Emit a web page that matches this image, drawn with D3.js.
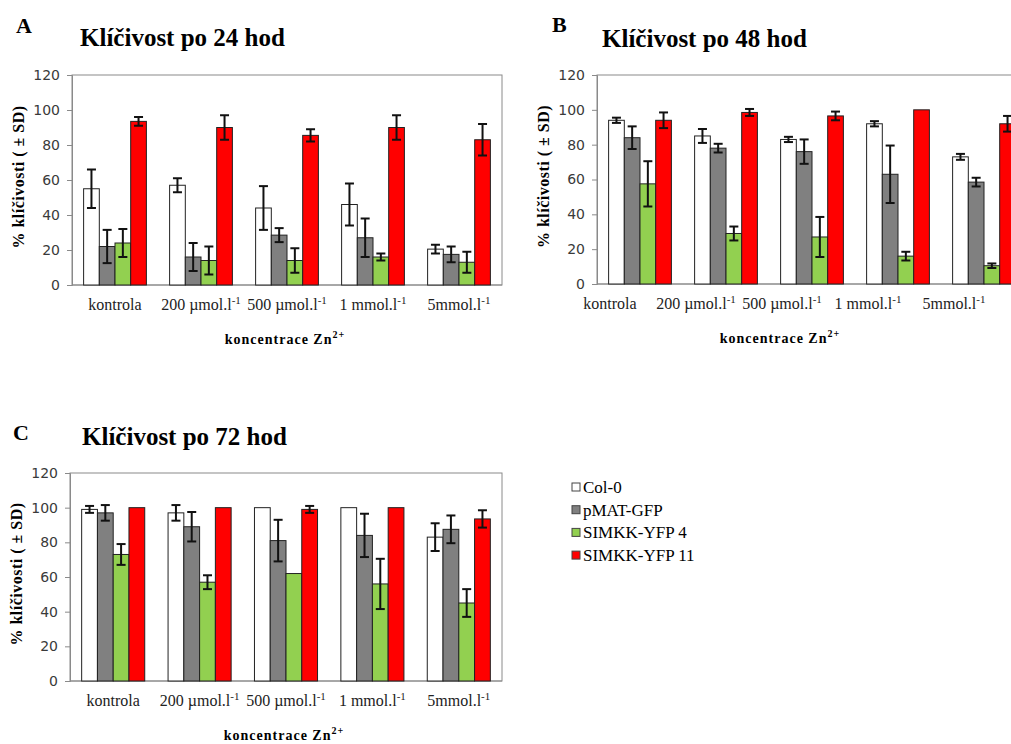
<!DOCTYPE html>
<html>
<head>
<meta charset="utf-8">
<script src="https://cdn.jsdelivr.net/npm/d3@7"></script>
<style>
  body { margin: 0; background: #fff; }
  svg { display: block; }
</style>
</head>
<body>
<div class="chart"></div>
<script>
// germination data (% klíčivosti)
var categories = ["kontrola", "200 µmol.l-1", "500 µmol.l-1", "1 mmol.l-1", "5mmol.l-1"];
var seriesNames = ["Col-0", "pMAT-GFP", "SIMKK-YFP 4", "SIMKK-YFP 11"];
var yTicks = [0, 20, 40, 60, 80, 100, 120];

// 24 h : one row per series, one value per category
var mean24 = [
    [55, 57, 44, 46, 20.5],
    [22, 16, 28.5, 27, 17.5],
    [24, 14, 14, 16, 13],
    [93.5, 90, 85.5, 90, 83]
];
var sd24 = [
    [11, 4, 12.5, 12, 2.5],
    [9.5, 8, 4, 11, 4.5],
    [8, 8, 7, 2, 6],
    [2.5, 7, 3.5, 7, 9]
];

// 48 h
var mean48 = [
    [94, 85, 83, 92, 73],
    [84, 78, 76, 63, 58.5],
    [57.5, 29, 27, 16, 10.5],
    [94, 98.5, 96.5, 100, 92]
];
var sd48 = [
    [1.5, 4, 1.5, 1.5, 1.7],
    [6.5, 2.5, 7, 16.5, 2.5],
    [13, 4, 11.5, 2.5, 1.3],
    [4.5, 2, 2.5, 0, 4.5]
];

// 72 h
var mean72 = [
    [99, 97, 100, 100, 83],
    [97, 89, 81, 84, 87.5],
    [73, 57, 62, 56, 45],
    [100, 100, 99, 100, 93.5]
];
var sd72 = [
    [2, 4.5, 0, 0, 8],
    [4.5, 8.5, 12, 12.5, 8],
    [6, 4, 0, 14.5, 8],
    [0, 0, 2, 0, 5]
];

var colors = ["#ffffff", "#808080", "#92d050", "#ff0000"];

var serif = "'Liberation Serif', 'Times New Roman', serif";
var sans = "'DejaVu Sans', Verdana, sans-serif";

var svg = d3.select(".chart")
    .append("svg")
    .attr("width", 1011)
    .attr("height", 744);

// panel layout
var panels = [
    {letter: "A", title: "Klíčivost po 24 hod", mean: mean24, sd: sd24,
     left: 72, top: 75, width: 430, height: 210, letterX: 16, letterY: 33, titleX: 80, titleY: 46, labelShift: 0},
    {letter: "B", title: "Klíčivost po 48 hod", mean: mean48, sd: sd48,
     left: 597, top: 75, width: 430, height: 209, letterX: 552, letterY: 32, titleX: 602, titleY: 47, labelShift: -30},
    {letter: "C", title: "Klíčivost po 72 hod", mean: mean72, sd: sd72,
     left: 70, top: 473, width: 432, height: 208, letterX: 13, letterY: 440, titleX: 82, titleY: 445, labelShift: 0}
];

panels.forEach(drawPanel);

function drawPanel(p) {
    // panel letter
    svg.append("text")
        .attr("x", p.letterX)
        .attr("y", p.letterY)
        .style("font-family", serif)
        .style("font-weight", "bold")
        .style("font-size", "22px")
        .text(p.letter);

    // title
    svg.append("text")
        .attr("x", p.titleX)
        .attr("y", p.titleY)
        .style("font-family", serif)
        .style("font-weight", "bold")
        .style("font-size", "25px")
        .text(p.title);

    var g = svg.append("g")
        .attr("transform", "translate(" + p.left + "," + p.top + ")");

    var x0 = d3.scaleBand()
        .domain(categories)
        .range([0, p.width])
        .paddingInner(0.27)
        .paddingOuter(0.135);

    var x1 = d3.scaleBand()
        .domain(d3.range(seriesNames.length))
        .range([0, x0.bandwidth()]);

    var y = d3.scaleLinear()
        .domain([0, 120])
        .range([p.height, 0]);

    // plot frame
    g.append("rect")
        .attr("width", p.width)
        .attr("height", p.height)
        .attr("fill", "none")
        .attr("stroke", "#8a8a8a")
        .attr("stroke-width", 1);

    // y axis
    var yAxis = d3.axisLeft(y)
        .tickValues(yTicks)
        .tickSize(5)
        .tickPadding(7);

    var ya = g.append("g").call(yAxis);
    ya.select(".domain").attr("stroke", "#8a8a8a");
    ya.selectAll(".tick line").attr("stroke", "#8a8a8a");
    ya.selectAll(".tick text")
        .style("font-family", sans)
        .style("font-size", "14px")
        .attr("fill", "#3a3a3a");

    // x axis baseline
    g.append("line")
        .attr("x1", 0)
        .attr("x2", p.width)
        .attr("y1", p.height)
        .attr("y2", p.height)
        .attr("stroke", "#8a8a8a");

    // x category labels (with superscript -1)
    categories.forEach(function(c) {
        var t = g.append("text")
            .attr("x", x0(c) + x0.bandwidth() / 2 + p.labelShift)
            .attr("y", p.height + 25)
            .attr("text-anchor", "middle")
            .style("font-family", serif)
            .style("font-size", "16px")
            .attr("fill", "#222");
        var m = c.match(/^(.*)(-1)$/);
        if (m) {
            t.append("tspan").text(m[1]);
            t.append("tspan")
                .attr("dy", -6)
                .style("font-size", "11px")
                .text(m[2]);
        } else {
            t.text(c);
        }
    });

    // bars
    p.mean.forEach(function(row, s) {
        g.selectAll(".bar-" + s)
            .data(row)
            .enter().append("rect")
            .attr("class", "bar-" + s)
            .attr("x", function(d, i) { return x0(categories[i]) + x1(s); })
            .attr("y", function(d) { return y(d); })
            .attr("width", x1.bandwidth())
            .attr("height", function(d) { return p.height - y(d); })
            .attr("fill", colors[s])
            .attr("stroke", "#222")
            .attr("stroke-width", 1);
    });

    // error bars
    p.mean.forEach(function(row, s) {
        row.forEach(function(d, i) {
            var sd = p.sd[s][i];
            if (!sd) return;
            var cx = x0(categories[i]) + x1(s) + x1.bandwidth() / 2;
            var eb = g.append("g")
                .attr("stroke", "#111")
                .attr("stroke-width", 2);
            eb.append("line")
                .attr("x1", cx).attr("x2", cx)
                .attr("y1", y(d + sd)).attr("y2", y(d - sd));
            eb.append("line")
                .attr("x1", cx - 4.5).attr("x2", cx + 4.5)
                .attr("y1", y(d + sd)).attr("y2", y(d + sd));
            eb.append("line")
                .attr("x1", cx - 4.5).attr("x2", cx + 4.5)
                .attr("y1", y(d - sd)).attr("y2", y(d - sd));
        });
    });

    // y axis title
    g.append("text")
        .attr("transform", "rotate(-90)")
        .attr("x", -p.height / 2 + 3)
        .attr("y", -48)
        .attr("text-anchor", "middle")
        .style("font-family", serif)
        .style("font-weight", "bold")
        .style("font-size", "16px")
        .style("letter-spacing", "0.5px")
        .text("% klíčivosti ( ± SD)");

    // x axis title
    var xt = g.append("text")
        .attr("x", p.width / 2 - 2 + (p.letter === "B" ? -30 : 0))
        .attr("y", p.height + 59)
        .attr("text-anchor", "middle")
        .style("font-family", serif)
        .style("font-weight", "bold")
        .style("font-size", "14px")
        .style("letter-spacing", "1px");
    xt.append("tspan").text("koncentrace Zn");
    xt.append("tspan")
        .attr("dy", -6)
        .style("font-size", "10px")
        .text("2+");
}

// legend
var legend = svg.append("g")
    .attr("transform", "translate(572,487)");

seriesNames.forEach(function(name, i) {
    var row = legend.append("g")
        .attr("transform", "translate(0," + (i * 22.7) + ")");
    row.append("rect")
        .attr("x", 0)
        .attr("y", -4)
        .attr("width", 8)
        .attr("height", 8)
        .attr("fill", colors[i])
        .attr("stroke", "#444");
    row.append("text")
        .attr("x", 11)
        .attr("y", 6)
        .style("font-family", serif)
        .style("font-size", "17px")
        .text(name);
});
</script>
</body>
</html>
